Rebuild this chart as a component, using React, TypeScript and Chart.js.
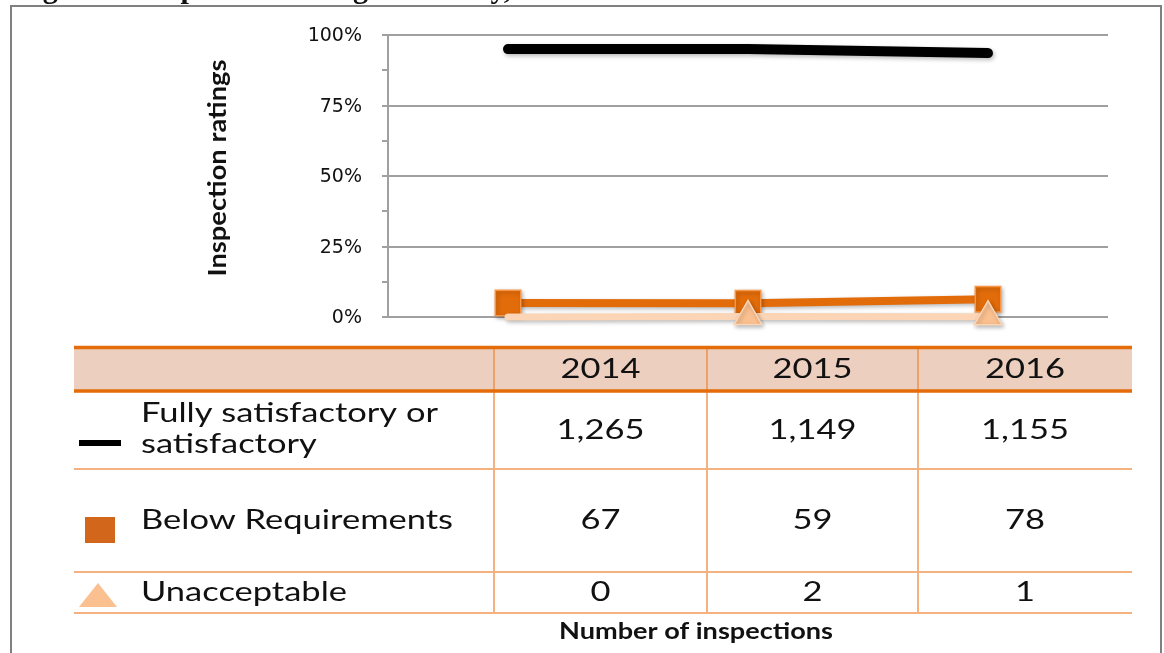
import React, { useEffect, useRef } from 'react';
import { Chart, registerables } from 'chart.js';

Chart.register(...registerables);

// ---------- data ----------
const years = ['2014', '2015', '2016'];
const seriesNames = ['Fully satisfactory or satisfactory', 'Below Requirements', 'Unacceptable'];
const rowLabelLines = [['Fully satisfactory or', 'satisfactory'], ['Below Requirements'], ['Unacceptable']];
const fullyPct = [95.0, 95.0, 93.6];
const belowPct = [5.0, 4.9, 6.3];
const unaccPct = [0, 0.2, 0.1];
const fullyCounts = [1265, 1149, 1155];
const belowCounts = [67, 59, 78];
const unaccCounts = [0, 2, 1];
const yTickStep = 12.5;
const yMajorStep = 25;
const yTitle = 'Inspection ratings';
const tableTitle = 'Number of inspections';
const figureTitle = 'Figure 1: Inspection Ratings Annually, 2014 to 2016';

// ---------- styles ----------
const W = 1164;
const H = 653;
const TEXT = '#111111';
const GRID = '#a0a0a0';
const T = {
  left: 74,
  right: 1132,
  headTop: 347,
  headBottom: 391,
  rowBottoms: [469, 572, 613],
  cols: [494, 707, 918],
};

function drawStretched(
  ctx: CanvasRenderingContext2D,
  text: string,
  x: number,
  y: number,
  font: string,
  align: CanvasTextAlign,
  sx: number,
  sy = 1,
  rot = 0
) {
  ctx.save();
  ctx.font = font;
  ctx.fillStyle = TEXT;
  ctx.textAlign = align;
  ctx.textBaseline = 'alphabetic';
  ctx.translate(x, y);
  if (rot) ctx.rotate(rot);
  ctx.scale(sx, sy);
  ctx.fillText(text, 0, 0);
  ctx.restore();
}

function measure(ctx: CanvasRenderingContext2D, text: string, font: string) {
  ctx.save();
  ctx.font = font;
  const w = ctx.measureText(text).width;
  ctx.restore();
  return w;
}

const shadowPlugin = {
  id: 'softShadow',
  beforeDatasetsDraw(chart: any) {
    const c = chart.ctx;
    c.save();
    c.shadowColor = 'rgba(0,0,0,0.28)';
    c.shadowBlur = 4;
    c.shadowOffsetX = 1.5;
    c.shadowOffsetY = 2;
  },
  afterDatasetsDraw(chart: any) {
    chart.ctx.restore();
  },
};

const decorPlugin = {
  id: 'decor',
  afterDraw(chart: any) {
    const ctx: CanvasRenderingContext2D = chart.ctx;

    // figure title (mostly cut off by the top of the page)
    const titleFont = 'bold 30px "Liberation Serif", "Times New Roman", serif';
    drawStretched(ctx, figureTitle, 16, -2, titleFont, 'left', 1.0);

    // outer frame
    ctx.save();
    ctx.strokeStyle = '#808080';
    ctx.lineWidth = 2;
    ctx.beginPath();
    ctx.moveTo(11, H + 5);
    ctx.lineTo(11, 6);
    ctx.lineTo(1161, 6);
    ctx.lineTo(1161, H + 5);
    ctx.stroke();
    ctx.restore();

    // y axis title (rotated)
    const ytFont = 'bold 21px Lato, "Open Sans", sans-serif';
    const ytW = measure(ctx, yTitle, ytFont);
    drawStretched(ctx, yTitle, 226, 168, ytFont, 'center', 217 / ytW, 1.18, -Math.PI / 2);

    // ---------- data table ----------
    ctx.save();
    ctx.fillStyle = '#EDCFBF';
    ctx.fillRect(T.left, T.headTop, T.right - T.left, T.headBottom - T.headTop);

    ctx.strokeStyle = 'rgba(238,130,50,0.62)';
    ctx.lineWidth = 2;
    ctx.beginPath();
    for (const x of T.cols) {
      ctx.moveTo(x, T.headTop);
      ctx.lineTo(x, T.rowBottoms[T.rowBottoms.length - 1] + 1);
    }
    for (const y of T.rowBottoms) {
      ctx.moveTo(T.left, y);
      ctx.lineTo(T.right, y);
    }
    ctx.stroke();

    ctx.strokeStyle = '#E46C0A';
    ctx.lineWidth = 3.5;
    ctx.beginPath();
    ctx.moveTo(T.left, T.headTop + 0.5);
    ctx.lineTo(T.right, T.headTop + 0.5);
    ctx.moveTo(T.left, T.headBottom);
    ctx.lineTo(T.right, T.headBottom);
    ctx.stroke();
    ctx.restore();

    const tf = '27px Lato, "Open Sans", sans-serif';
    const sx = 312 / measure(ctx, 'Below Requirements', tf);

    const colCenters = [
      (T.cols[0] + T.cols[1]) / 2,
      (T.cols[1] + T.cols[2]) / 2,
      (T.cols[2] + T.right) / 2,
    ];
    years.forEach((yr, i) => drawStretched(ctx, yr, colCenters[i], 378, tf, 'center', sx));

    const counts = [fullyCounts, belowCounts, unaccCounts];
    const valueBaselines = [439, 528.5, 601];
    counts.forEach((arr, r) => {
      arr.forEach((v, i) =>
        drawStretched(ctx, v.toLocaleString('en-US'), colCenters[i], valueBaselines[r], tf, 'center', sx)
      );
    });

    // row labels
    drawStretched(ctx, rowLabelLines[0][0], 141, 422, tf, 'left', sx);
    drawStretched(ctx, rowLabelLines[0][1], 141, 453, tf, 'left', sx);
    drawStretched(ctx, rowLabelLines[1][0], 141, 528.5, tf, 'left', sx);
    drawStretched(ctx, rowLabelLines[2][0], 141, 601, tf, 'left', sx);

    // legend glyphs
    ctx.save();
    ctx.fillStyle = '#000000';
    ctx.fillRect(79, 440, 42, 6);
    ctx.fillStyle = '#D2661A';
    ctx.fillRect(85, 517, 30, 26);
    ctx.fillStyle = '#FAC090';
    ctx.beginPath();
    ctx.moveTo(79, 607);
    ctx.lineTo(117, 607);
    ctx.lineTo(98, 583);
    ctx.closePath();
    ctx.fill();
    ctx.restore();

    // table caption
    const capFont = 'bold 22px Lato, "Open Sans", sans-serif';
    const capW = measure(ctx, tableTitle, capFont);
    drawStretched(ctx, tableTitle, 696, 638.5, capFont, 'center', 274 / capW);
  },
};

export default function App() {
  const ref = useRef<HTMLCanvasElement | null>(null);

  useEffect(() => {
    if (!ref.current) return;
    const chart = new Chart(ref.current, {
      type: 'line',
      data: {
        labels: years,
        datasets: [
          {
            label: seriesNames[0],
            data: fullyPct,
            borderColor: '#000000',
            backgroundColor: '#000000',
            borderWidth: 10,
            borderCapStyle: 'round',
            borderJoinStyle: 'round',
            pointRadius: 0,
            order: 2,
            clip: false,
            tension: 0,
          },
          {
            label: seriesNames[1],
            data: belowPct,
            borderColor: '#E36C0A',
            backgroundColor: '#E36C0A',
            borderWidth: 8,
            pointStyle: 'rect',
            pointRadius: 18,
            pointBackgroundColor: '#E36C0A',
            pointBorderColor: '#F79646',
            pointBorderWidth: 1.5,
            order: 1,
            clip: false,
            tension: 0,
          },
          {
            label: seriesNames[2],
            data: unaccPct,
            borderColor: '#FBD5B5',
            backgroundColor: '#FAC090',
            borderWidth: 7,
            borderCapStyle: 'round',
            pointStyle: 'triangle',
            pointRadius: (c: any) => (c.raw === 0 ? 0 : 16),
            pointBackgroundColor: '#FAC090',
            pointBorderColor: '#FCD5B4',
            pointBorderWidth: 1.5,
            order: 0,
            clip: false,
            tension: 0,
          },
        ] as any,
      },
      options: {
        responsive: false,
        devicePixelRatio: 1,
        animation: false,
        events: [],
        layout: { padding: { left: 0, right: 56, top: 35, bottom: 336 } },
        plugins: {
          legend: { display: false },
          tooltip: { enabled: false },
          title: { display: false },
        },
        scales: {
          x: {
            type: 'category',
            display: false,
            offset: true,
            grid: { display: false },
          },
          y: {
            min: 0,
            max: 100,
            afterFit: (s: any) => {
              s.width = 388;
            },
            border: { display: true, color: GRID, width: 2 },
            grid: {
              color: (c: any) =>
                c.tick && c.tick.value % yMajorStep === 0 ? GRID : 'rgba(0,0,0,0)',
              tickColor: GRID,
              lineWidth: 2,
              tickLength: 6,
              drawTicks: true,
            },
            ticks: {
              stepSize: yTickStep,
              autoSkip: false,
              padding: 20,
              labelOffset: 1.5,
              color: TEXT,
              font: { family: '"DejaVu Sans", sans-serif', size: 19 },
              callback: (v: any) => (Number(v) % yMajorStep === 0 ? v + '%' : ''),
            },
          },
        },
      },
      plugins: [shadowPlugin, decorPlugin],
    } as any);
    return () => chart.destroy();
  }, []);

  return (
    <div style={{ position: 'absolute', left: 0, top: 0, width: W, height: H, background: '#ffffff' }}>
      <canvas ref={ref} width={W} height={H} style={{ display: 'block' }} />
    </div>
  );
}
